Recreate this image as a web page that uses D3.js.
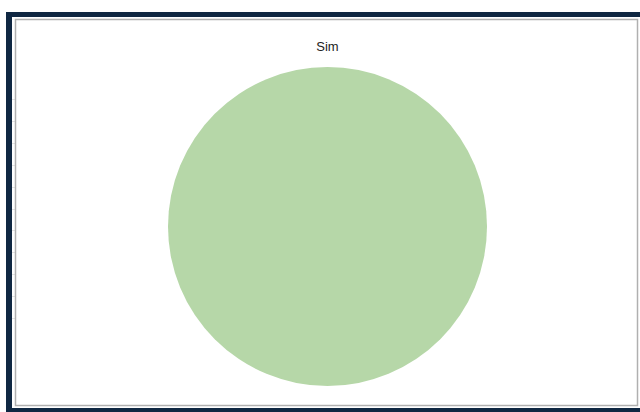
<!DOCTYPE html>
<html><head><meta charset="utf-8">
<script src="https://cdn.jsdelivr.net/npm/d3@7"></script>
<style>html,body{margin:0;padding:0;background:#fff;overflow:hidden}</style>
</head><body>
<svg id="chart" width="640" height="412"></svg>
<script>
const categories = ["Sim"];
const values = [1];
const colors = ["#b6d7a8"];

const svg = d3.select("#chart");
// frame
svg.append("rect").attr("x",6).attr("y",12).attr("width",640).attr("height",412).attr("fill","#0f2742");
svg.append("rect").attr("x",12).attr("y",17).attr("width",640).attr("height",391).attr("fill","#fff");
// faint ticks in gap
const tickY = d3.range(11).map(i => 99 + i*21.9);
svg.selectAll(".tk").data(tickY).enter().append("line")
  .attr("x1",12).attr("x2",15).attr("y1",d=>Math.round(d)+0.5).attr("y2",d=>Math.round(d)+0.5)
  .attr("stroke","#e4e4e4").attr("stroke-width",1);
svg.append("rect").attr("x",15.5).attr("y",19.5).attr("width",622).attr("height",386)
  .attr("fill","#fff").attr("stroke","#b0b0b0").attr("stroke-width",1.5);

const cx = 327.5, cy = 226.5, r = 159.5;
const pie = d3.pie().sort(null).value(d => d)(values);
const arc = d3.arc().innerRadius(0).outerRadius(r);
const g = svg.append("g").attr("transform",`translate(${cx},${cy})`);
g.selectAll("path").data(pie).enter().append("path")
  .attr("d", arc).attr("fill",(d,i)=>colors[i]);

svg.selectAll(".lbl").data(categories).enter().append("text")
  .attr("x",cx).attr("y",51).attr("text-anchor","middle")
  .attr("font-family","Liberation Sans, Arial, sans-serif").attr("font-size",13)
  .attr("fill","#222").text(d=>d);
</script>
</body></html>
